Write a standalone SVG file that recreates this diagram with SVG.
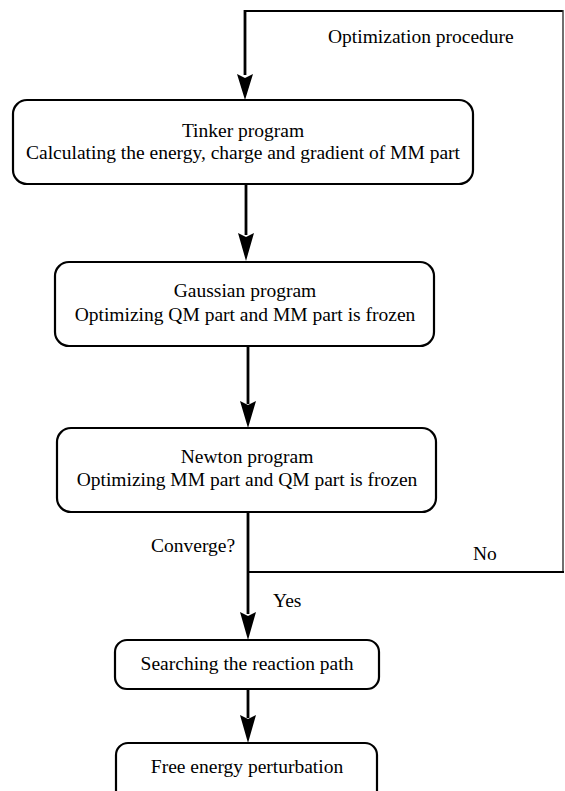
<svg xmlns="http://www.w3.org/2000/svg" width="565" height="791" viewBox="0 0 565 791">
<style>
  .box { fill: #ffffff; stroke: #000000; stroke-width: 2.2; }
  .t { font-family: "Liberation Serif", "Times New Roman", serif; font-size: 19.5px; fill: #000000; }
  .c { text-anchor: middle; }
  .ln { stroke: #000000; stroke-width: 2.8; fill: none; }
  .thin { stroke: #000000; stroke-width: 2; fill: none; }
  .edge { stroke: #333333; stroke-width: 1.4; fill: none; }
</style>
<defs>
  <marker id="ah" markerUnits="userSpaceOnUse" markerWidth="18" markerHeight="28" refX="8" refY="27" orient="auto-start-reverse" viewBox="0 0 16 28">
    <path d="M0,0 L8,4 L16,0 L8,28 Z" fill="#000000"/>
  </marker>
</defs>
<rect width="565" height="791" fill="#ffffff"/>
<g id="connectors">
  <polyline class="thin" points="563,11 245,11"/>
  <line class="edge" x1="563" y1="10" x2="563" y2="572"/>
  <line class="ln" x1="245" y1="10" x2="245" y2="75"/>
  <path d="M237,74 L245,78 L253,74 L245,100 Z" fill="#000"/>
  <line class="ln" x1="246" y1="184" x2="246" y2="235"/>
  <path d="M238,233 L246,237 L254,233 L246,261 Z" fill="#000"/>
  <line class="ln" x1="248" y1="346" x2="248" y2="404"/>
  <path d="M240,401 L248,405 L256,401 L248,428 Z" fill="#000"/>
  <line class="ln" x1="248" y1="512" x2="248" y2="614"/>
  <path d="M240,612 L248,616 L256,612 L248,640 Z" fill="#000"/>
  <line class="thin" x1="248" y1="572" x2="564" y2="572"/>
  <line class="ln" x1="248" y1="689" x2="248" y2="718"/>
  <path d="M240,715 L248,719 L256,715 L248,743 Z" fill="#000"/>
</g>
<g id="loop-label">
  <text class="t" x="328" y="43">Optimization procedure</text>
</g>
<g id="tinker">
  <rect class="box" x="13" y="100" width="460" height="84" rx="14" ry="14"/>
  <text class="t c" x="243" y="137">Tinker program</text>
  <text class="t c" x="243" y="159">Calculating the energy, charge and gradient of MM part</text>
</g>
<g id="gaussian">
  <rect class="box" x="55" y="262" width="379" height="84" rx="14" ry="14"/>
  <text class="t c" x="245" y="297">Gaussian program</text>
  <text class="t c" x="245" y="321">Optimizing QM part and MM part is frozen</text>
</g>
<g id="newton">
  <rect class="box" x="57" y="428" width="379" height="84" rx="14" ry="14"/>
  <text class="t c" x="247" y="463">Newton program</text>
  <text class="t c" x="247" y="486">Optimizing MM part and QM part is frozen</text>
</g>
<g id="labels">
  <text class="t" x="151" y="552">Converge?</text>
  <text class="t" x="473" y="560">No</text>
  <text class="t" x="273" y="607">Yes</text>
</g>
<g id="search">
  <rect class="box" x="115" y="640" width="264" height="49" rx="12" ry="12"/>
  <text class="t c" x="247" y="670">Searching the reaction path</text>
</g>
<g id="free">
  <rect class="box" x="116" y="743" width="261" height="60" rx="12" ry="12"/>
  <text class="t c" x="247" y="773">Free energy perturbation</text>
</g>
</svg>
